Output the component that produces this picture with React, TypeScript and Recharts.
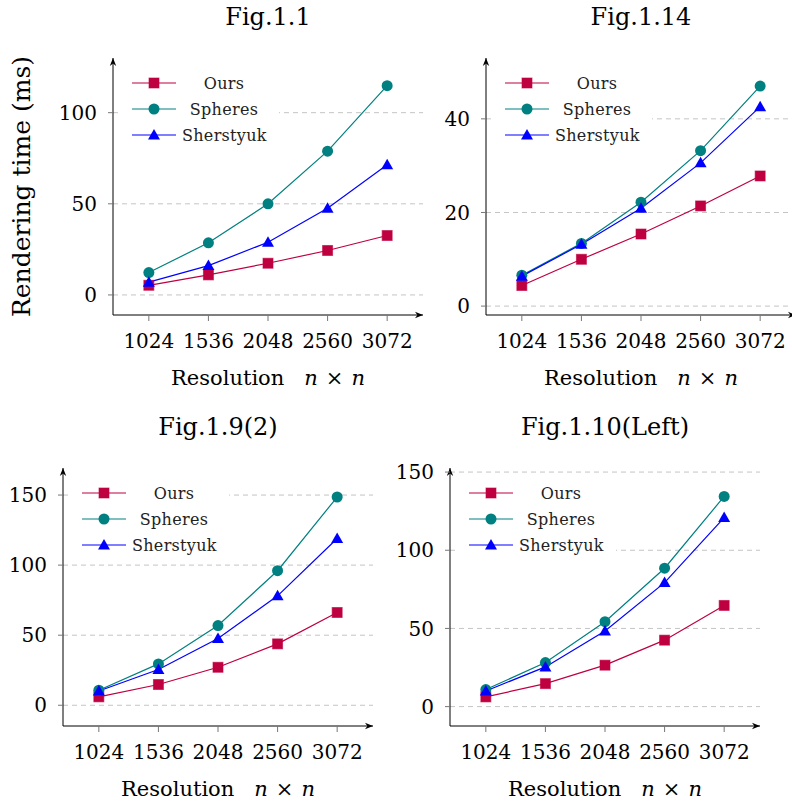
import React from "react"
import { CartesianGrid, Legend, Line, LineChart, XAxis, YAxis } from "recharts"

const resolutions = [1024, 1536, 2048, 2560, 3072]

const fig11Ours = [5.3, 11.0, 17.4, 24.4, 32.6]
const fig11Spheres = [12.3, 28.6, 50.0, 78.9, 114.8]
const fig11Sherstyuk = [7.0, 16.1, 28.9, 47.6, 71.4]

const fig114Ours = [4.4, 10.0, 15.4, 21.4, 27.8]
const fig114Spheres = [6.6, 13.4, 22.2, 33.2, 47.0]
const fig114Sherstyuk = [6.4, 13.2, 20.9, 30.6, 42.6]

const fig192Ours = [6.0, 14.8, 27.1, 43.8, 66.2]
const fig192Spheres = [10.7, 29.5, 56.9, 96.0, 148.6]
const fig192Sherstyuk = [10.2, 25.5, 47.6, 78.1, 119.0]

const fig110Ours = [6.2, 14.7, 26.5, 42.5, 64.7]
const fig110Spheres = [10.9, 28.2, 54.3, 88.5, 134.4]
const fig110Sherstyuk = [10.0, 25.4, 48.3, 79.3, 120.9]

const ticks11 = [0, 50, 100]
const ticks114 = [0, 20, 40]
const ticks192 = [0, 50, 100, 150]
const ticks110 = [0, 50, 100, 150]

const FONT = "DejaVu Serif"

type Shape = "square" | "circle" | "triangle"

const series: { key: string; name: string; color: string; shape: Shape }[] = [
  { key: "ours", name: "Ours", color: "#BF0040", shape: "square" },
  { key: "spheres", name: "Spheres", color: "#008080", shape: "circle" },
  { key: "sherstyuk", name: "Sherstyuk", color: "#0000FF", shape: "triangle" },
]

const buildRows = (ours: number[], spheres: number[], sherstyuk: number[]) =>
  resolutions.map((r, i) => ({ resolution: r, ours: ours[i], spheres: spheres[i], sherstyuk: sherstyuk[i] }))

function Marker({ shape, color, cx, cy }: { shape: Shape; color: string; cx: number; cy: number }) {
  if (shape === "square") {
    return <rect x={cx - 5} y={cy - 5} width={10} height={10} fill={color} stroke={color} strokeOpacity={0.6} />
  }
  if (shape === "circle") {
    return <circle cx={cx} cy={cy} r={5.5} fill={color} />
  }
  return <path d={`M${cx},${cy - 6} L${cx + 6},${cy + 4.5} L${cx - 6},${cy + 4.5} Z`} fill={color} />
}

const dotFor = (shape: Shape, color: string) => (props: any) => {
  const { cx, cy, index } = props
  if (cx == null || cy == null) return <g key={index} />
  return (
    <g key={index}>
      <Marker shape={shape} color={color} cx={cx} cy={cy} />
    </g>
  )
}

function LegendBox() {
  return (
    <div style={{ background: "#fff", width: 158, padding: "4px 0", fontFamily: FONT }}>
      {series.map((s) => (
        <div key={s.key} style={{ display: "flex", alignItems: "center", height: 26 }}>
          <svg width={61} height={26} style={{ display: "block" }}>
            <line x1={11} y1={13} x2={55} y2={13} stroke={s.color} strokeWidth={1.2} />
            <Marker shape={s.shape} color={s.color} cx={33} cy={13} />
          </svg>
          <div style={{ width: 84, textAlign: "center", fontSize: 16, letterSpacing: 0.3, color: "#222" }}>{s.name}</div>
        </div>
      ))}
    </div>
  )
}

function XLabel({ viewBox }: any) {
  const cx = viewBox.x + viewBox.width / 2
  const cy = viewBox.y + 63
  return (
    <text x={cx} y={cy} dy="0.35em" textAnchor="middle" fontFamily={FONT} fontSize={21} fill="#000">
      Resolution
      <tspan dx={20} fontStyle="italic">n</tspan>
      <tspan dx={8}>×</tspan>
      <tspan dx={8} fontStyle="italic">n</tspan>
    </text>
  )
}

function YLabel({ viewBox }: any) {
  const cx = viewBox.x + 21
  const cy = viewBox.y + viewBox.height / 2
  return (
    <text
      x={cx}
      y={cy}
      dy="0.35em"
      textAnchor="middle"
      transform={`rotate(-90, ${cx}, ${cy})`}
      fontFamily={FONT}
      fontSize={25}
      fill="#000"
    >
      Rendering time (ms)
    </text>
  )
}

interface PanelProps {
  id: string
  title: string
  left: number
  top: number
  width: number
  height: number
  yAxisWidth: number
  rightMargin: number
  xAxisHeight: number
  yDomain: [number, number]
  yTicks: number[]
  data: ReturnType<typeof buildRows>
  showYLabel?: boolean
}

function Panel({ id, title, left, top, width, height, yAxisWidth, rightMargin, xAxisHeight, yDomain, yTicks, data, showYLabel }: PanelProps) {
  const plotLeft = yAxisWidth
  const plotWidth = width - yAxisWidth - rightMargin
  return (
    <div style={{ position: "absolute", left, top, width, height }}>
      <div
        style={{
          position: "absolute",
          left: plotLeft - 60,
          width: plotWidth + 120,
          top: 2,
          lineHeight: "30px",
          textAlign: "center",
          fontFamily: FONT,
          fontSize: 24,
          color: "#000",
        }}
      >
        {title}
      </div>
      <LineChart width={width} height={height} data={data} margin={{ top: 58, right: rightMargin, bottom: 0, left: 0 }}>
        <defs>
          <marker id={`arrow-${id}`} viewBox="0 0 10 10" refX={10} refY={5} markerWidth={8} markerHeight={8} markerUnits="userSpaceOnUse" orient="auto-start-reverse">
            <path d="M0,1 L10,5 L0,9 L3,5 Z" fill="#000" />
          </marker>
        </defs>
        <CartesianGrid vertical={false} syncWithTicks stroke="#c4c4c4" strokeDasharray="5 4" />
        <XAxis
          dataKey="resolution"
          type="number"
          domain={[716, 3380]}
          ticks={resolutions}
          allowDataOverflow
          height={xAxisHeight}
          axisLine={{ stroke: "#000", strokeWidth: 1, markerEnd: `url(#arrow-${id})` }}
          tickLine={{ stroke: "#777" }}
          tickSize={6}
          tickMargin={13}
          tick={{ fontSize: 20, fontFamily: FONT, fill: "#000" }}
          label={<XLabel />}
        />
        <YAxis
          type="number"
          domain={yDomain}
          ticks={yTicks}
          allowDataOverflow
          width={yAxisWidth}
          axisLine={{ stroke: "#000", strokeWidth: 1, markerStart: `url(#arrow-${id})` }}
          tickLine={{ stroke: "#777" }}
          tickSize={5}
          tickMargin={11}
          tick={{ fontSize: 20, fontFamily: FONT, fill: "#000" }}
          label={showYLabel ? <YLabel /> : undefined}
        />
        <Legend
          layout="vertical"
          align="center"
          verticalAlign="middle"
          wrapperStyle={{ left: plotLeft + 8, top: 66, width: 158, height: 86 }}
          content={() => <LegendBox />}
        />
        {series.map((s) => (
          <Line
            key={s.key}
            dataKey={s.key}
            name={s.name}
            stroke={s.color}
            strokeWidth={1.2}
            dot={dotFor(s.shape, s.color)}
            activeDot={false}
            isAnimationActive={false}
          />
        ))}
      </LineChart>
    </div>
  )
}

export default function App() {
  return (
    <div style={{ position: "absolute", left: 0, top: 0, width: 792, height: 807, overflow: "hidden", background: "#fff" }}>
      <Panel
        id="p11"
        title="Fig.1.1"
        left={0}
        top={0}
        width={430}
        height={400}
        yAxisWidth={113}
        rightMargin={7}
        xAxisHeight={85}
        yDomain={[-11, 130]}
        yTicks={ticks11}
        data={buildRows(fig11Ours, fig11Spheres, fig11Sherstyuk)}
        showYLabel
      />
      <Panel
        id="p114"
        title="Fig.1.14"
        left={400}
        top={0}
        width={400}
        height={400}
        yAxisWidth={86}
        rightMargin={4}
        xAxisHeight={85}
        yDomain={[-1.9, 53]}
        yTicks={ticks114}
        data={buildRows(fig114Ours, fig114Spheres, fig114Sherstyuk)}
      />
      <Panel
        id="p192"
        title="Fig.1.9(2)"
        left={0}
        top={410}
        width={400}
        height={397}
        yAxisWidth={63}
        rightMargin={27}
        xAxisHeight={81}
        yDomain={[-14.8, 169.3]}
        yTicks={ticks192}
        data={buildRows(fig192Ours, fig192Spheres, fig192Sherstyuk)}
      />
      <Panel
        id="p110"
        title="Fig.1.10(Left)"
        left={390}
        top={410}
        width={402}
        height={397}
        yAxisWidth={60}
        rightMargin={32}
        xAxisHeight={81}
        yDomain={[-12.4, 152.6]}
        yTicks={ticks110}
        data={buildRows(fig110Ours, fig110Spheres, fig110Sherstyuk)}
      />
    </div>
  )
}
